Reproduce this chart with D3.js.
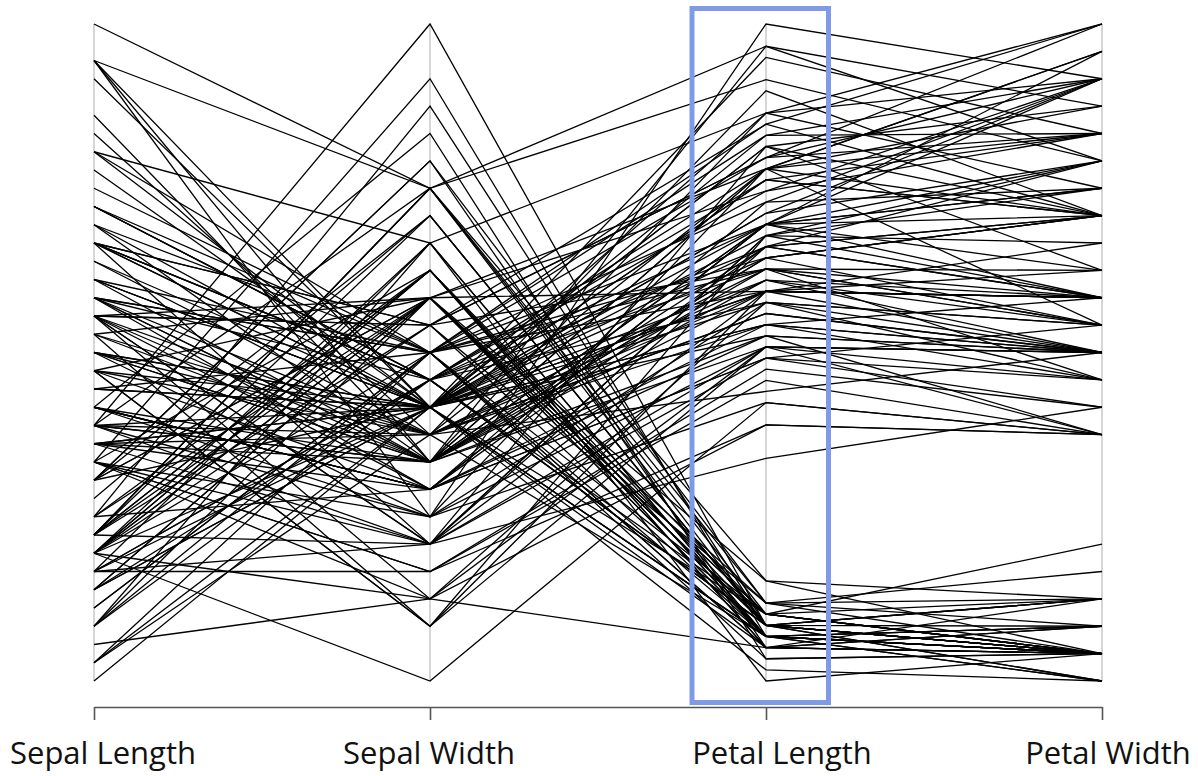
<!DOCTYPE html>
<html>
<head>
<meta charset="utf-8">
<script src="https://cdn.jsdelivr.net/npm/d3@7"></script>
<style>
  body { margin: 0; background: #fff; }
  svg { display: block; }
</style>
</head>
<body>
<div id="chart"></div>
<script>
const dimensions = ["Sepal Length", "Sepal Width", "Petal Length", "Petal Width"];

// Fisher's iris, one array per measurement
const sepalLength = [5.1,4.9,4.7,4.6,5.0,5.4,4.6,5.0,4.4,4.9,5.4,4.8,4.8,4.3,5.8,5.7,5.4,5.1,5.7,5.1,5.4,5.1,4.6,5.1,4.8,5.0,5.0,5.2,5.2,4.7,4.8,5.4,5.2,5.5,4.9,5.0,5.5,4.9,4.4,5.1,5.0,4.5,4.4,5.0,5.1,4.8,5.1,4.6,5.3,5.0,
  7.0,6.4,6.9,5.5,6.5,5.7,6.3,4.9,6.6,5.2,5.0,5.9,6.0,6.1,5.6,6.7,5.6,5.8,6.2,5.6,5.9,6.1,6.3,6.1,6.4,6.6,6.8,6.7,6.0,5.7,5.5,5.5,5.8,6.0,5.4,6.0,6.7,6.3,5.6,5.5,5.5,6.1,5.8,5.0,5.6,5.7,5.7,6.2,5.1,5.7,
  6.3,5.8,7.1,6.3,6.5,7.6,4.9,7.3,6.7,7.2,6.5,6.4,6.8,5.7,5.8,6.4,6.5,7.7,7.7,6.0,6.9,5.6,7.7,6.3,6.7,7.2,6.2,6.1,6.4,7.2,7.4,7.9,6.4,6.3,6.1,7.7,6.3,6.4,6.0,6.9,6.7,6.9,5.8,6.8,6.7,6.7,6.3,6.5,6.2,5.9];
const sepalWidth = [3.5,3.0,3.2,3.1,3.6,3.9,3.4,3.4,2.9,3.1,3.7,3.4,3.0,3.0,4.0,4.4,3.9,3.5,3.8,3.8,3.4,3.7,3.6,3.3,3.4,3.0,3.4,3.5,3.4,3.2,3.1,3.4,4.1,4.2,3.1,3.2,3.5,3.6,3.0,3.4,3.5,2.3,3.2,3.5,3.8,3.0,3.8,3.2,3.7,3.3,
  3.2,3.2,3.1,2.3,2.8,2.8,3.3,2.4,2.9,2.7,2.0,3.0,2.2,2.9,2.9,3.1,3.0,2.7,2.2,2.5,3.2,2.8,2.5,2.8,2.9,3.0,2.8,3.0,2.9,2.6,2.4,2.4,2.7,2.7,3.0,3.4,3.1,2.3,3.0,2.5,2.6,3.0,2.6,2.3,2.7,3.0,2.9,2.9,2.5,2.8,
  3.3,2.7,3.0,2.9,3.0,3.0,2.5,2.9,2.5,3.6,3.2,2.7,3.0,2.5,2.8,3.2,3.0,3.8,2.6,2.2,3.2,2.8,2.8,2.7,3.3,3.2,2.8,3.0,2.8,3.0,2.8,3.8,2.8,2.8,2.6,3.0,3.4,3.1,3.0,3.1,3.1,3.1,2.7,3.2,3.3,3.0,2.5,3.0,3.4,3.0];
const petalLength = [1.4,1.4,1.3,1.5,1.4,1.7,1.4,1.5,1.4,1.5,1.5,1.6,1.4,1.1,1.2,1.5,1.3,1.4,1.7,1.5,1.7,1.5,1.0,1.7,1.9,1.6,1.6,1.5,1.4,1.6,1.6,1.5,1.5,1.4,1.5,1.2,1.3,1.4,1.3,1.5,1.3,1.3,1.3,1.6,1.9,1.4,1.6,1.4,1.5,1.4,
  4.7,4.5,4.9,4.0,4.6,4.5,4.7,3.3,4.6,3.9,3.5,4.2,4.0,4.7,3.6,4.4,4.5,4.1,4.5,3.9,4.8,4.0,4.9,4.7,4.3,4.4,4.8,5.0,4.5,3.5,3.8,3.7,3.9,5.1,4.5,4.5,4.7,4.4,4.1,4.0,4.4,4.6,4.0,3.3,4.2,4.2,4.2,4.3,3.0,4.1,
  6.0,5.1,5.9,5.6,5.8,6.6,4.5,6.3,5.8,6.1,5.1,5.3,5.5,5.0,5.1,5.3,5.5,6.7,6.9,5.0,5.7,4.9,6.7,4.9,5.7,6.0,4.8,4.9,5.6,5.8,6.1,6.4,5.6,5.1,5.6,6.1,5.6,5.5,4.8,5.4,5.6,5.1,5.1,5.9,5.7,5.2,5.0,5.2,5.4,5.1];
const petalWidth = [0.2,0.2,0.2,0.2,0.2,0.4,0.3,0.2,0.2,0.1,0.2,0.2,0.1,0.1,0.2,0.4,0.4,0.3,0.3,0.3,0.2,0.4,0.2,0.5,0.2,0.2,0.4,0.2,0.2,0.2,0.2,0.4,0.1,0.2,0.2,0.2,0.2,0.1,0.2,0.2,0.3,0.3,0.2,0.6,0.4,0.3,0.2,0.2,0.2,0.2,
  1.4,1.5,1.5,1.3,1.5,1.3,1.6,1.0,1.3,1.4,1.0,1.5,1.0,1.4,1.3,1.4,1.5,1.0,1.5,1.1,1.8,1.3,1.5,1.2,1.3,1.4,1.4,1.7,1.5,1.0,1.1,1.0,1.2,1.6,1.5,1.6,1.5,1.3,1.3,1.3,1.2,1.4,1.2,1.0,1.3,1.2,1.3,1.3,1.1,1.3,
  2.5,1.9,2.1,1.8,2.2,2.1,1.7,1.8,1.8,2.5,2.0,1.9,2.1,2.0,2.4,2.3,1.8,2.2,2.3,1.5,2.3,2.0,2.0,1.8,2.1,1.8,1.8,1.8,2.1,1.6,1.9,2.0,2.2,1.5,1.4,2.3,2.4,1.8,1.8,2.1,2.4,2.3,1.9,2.3,2.5,2.3,1.9,2.0,2.3,1.8];

const columns = [sepalLength, sepalWidth, petalLength, petalWidth];
const rows = sepalLength.map((_, i) => columns.map(c => c[i]));

const width = 1198;
const height = 776;
const yTop = 24, yBottom = 681;

const svg = d3.select("#chart")
  .append("svg")
  .attr("width", width)
  .attr("height", height);

const x = d3.scalePoint()
  .domain(d3.range(dimensions.length))
  .range([94, 1102]);

// each axis scaled min..max on its own
const y = columns.map(c => d3.scaleLinear()
  .domain(d3.extent(c))
  .range([yBottom, yTop]));

// grey vertical axes
svg.append("g")
  .selectAll("line")
  .data(d3.range(dimensions.length))
  .join("line")
  .attr("x1", d => x(d)).attr("x2", d => x(d))
  .attr("y1", yTop).attr("y2", yBottom)
  .attr("stroke", "#c8c8c8")
  .attr("stroke-width", 1.5);

const line = d3.line()
  .x((d, i) => x(i))
  .y((d, i) => y[i](d));

svg.append("g")
  .selectAll("path")
  .data(rows)
  .join("path")
  .attr("d", line)
  .attr("fill", "none")
  .attr("stroke", "#000")
  .attr("stroke-width", 1.3);

// bottom axis with ticks only
const axis = svg.append("g")
  .attr("transform", "translate(0,707)")
  .call(d3.axisBottom(x).tickSize(13).tickSizeOuter(0).tickFormat(""));
axis.selectAll("path, line").attr("stroke", "#555").attr("stroke-width", 1.6);

// labels sit a little off their axes, as in the original
const labelShift = [9, -1, 16, 6];
svg.append("g")
  .selectAll("text")
  .data(dimensions)
  .join("text")
  .attr("x", (d, i) => x(i) + labelShift[i])
  .attr("y", 764)
  .attr("text-anchor", "middle")
  .attr("font-family", "'Open Sans', 'Noto Sans', sans-serif")
  .attr("font-size", "31px")
  .attr("fill", "#111")
  .text(d => d);

// highlight box around Petal Length
svg.append("rect")
  .attr("x", x(2) - 74)
  .attr("y", 8.5)
  .attr("width", 136.5)
  .attr("height", 694)
  .attr("fill", "none")
  .attr("stroke", "#7f9be6")
  .attr("stroke-width", 5);
</script>
</body>
</html>
